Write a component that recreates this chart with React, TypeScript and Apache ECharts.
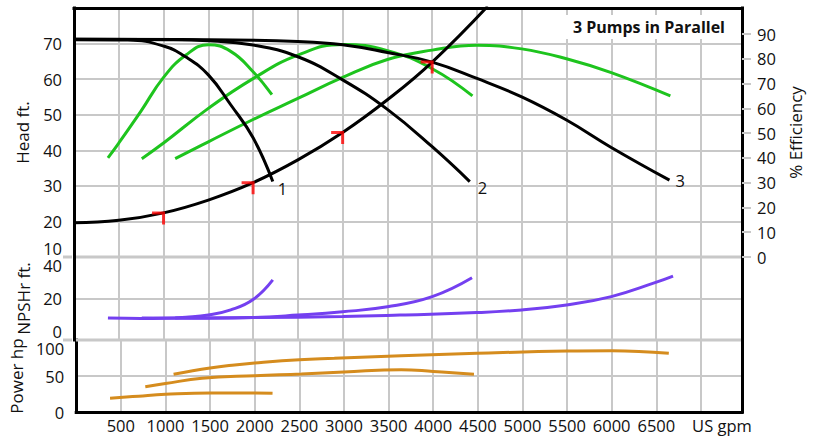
import React, { useEffect, useRef } from 'react';
import * as echarts from 'echarts';

// ---- data ----
const effTicks = [0, 10, 20, 30, 40, 50, 60, 70, 80, 90];

const headPump1 = [[0, 71.1], [600, 71.0], [1000, 69.3], [1250, 66.2], [1500, 61.2], [1750, 52.8], [2000, 43.5], [2220, 31.2]];
const headPump2 = [[0, 71.2], [1000, 71.1], [1500, 70.8], [2000, 69.6], [2500, 66.3], [3000, 59.8], [3500, 51.5], [4000, 41.0], [4420, 31.2]];
const headPump3 = [[0, 71.2], [1500, 71.1], [2500, 70.6], [3000, 69.7], [3500, 67.5], [4000, 64.8], [4500, 60.2], [5000, 55.0], [5500, 48.5], [6000, 40.8], [6650, 31.6]];
const systemHead = [[0, 19.6], [500, 20.3], [1000, 22.4], [1500, 26.0], [2000, 30.9], [2500, 37.3], [3000, 45.0], [3500, 54.2], [4000, 64.8], [4620, 80.5]];
const operatingPoints = [[1000, 22.4], [2000, 30.9], [3000, 45.0], [4000, 64.8]];

const eff1 = [[379, 40], [500, 46], [750, 59], [1000, 72.5], [1250, 81.5], [1500, 85.7], [1750, 83], [2000, 74.8], [2210, 65.5]];
const eff2 = [[757, 39.7], [1000, 46], [1500, 60], [2000, 72], [2500, 81.5], [3000, 85.8], [3500, 83.3], [4000, 76], [4450, 65]];
const eff3 = [[1130, 39.7], [1500, 46.5], [2000, 55.5], [2500, 64], [3000, 72.5], [3500, 79.7], [4000, 83.5], [4500, 85.5], [5000, 84], [5500, 80], [6000, 74.4], [6660, 65]];

const npsh1 = [[379, 10.6], [750, 10.4], [1000, 10.5], [1250, 11], [1500, 12], [1750, 14.5], [2000, 19.5], [2220, 29]];
const npsh2 = [[757, 10.6], [1500, 10.5], [2000, 10.8], [2500, 12], [3000, 13.6], [3500, 16], [4000, 20.9], [4445, 30]];
const npsh3 = [[1130, 10.6], [2000, 10.8], [3000, 11.3], [3640, 12], [4500, 13.2], [5000, 14.5], [5500, 16.9], [6000, 20.9], [6480, 27.5], [6690, 30.8]];

const power1 = [[379, 19], [700, 22], [1000, 24.5], [1500, 26.5], [2000, 26.5], [2200, 26]];
const power2 = [[774, 35], [1000, 39.5], [1409, 46.8], [2000, 50.5], [2522, 52.8], [3000, 55.5], [3640, 58.8], [4000, 56.3], [4457, 52.3]];
const power3 = [[1091, 52.3], [1500, 61], [1775, 65.3], [2000, 68], [2500, 72.5], [2892, 74.5], [3640, 78.2], [4490, 81.5], [5500, 84.7], [6000, 85.2], [6640, 81.5]];

const FONT = "'Open Sans', sans-serif";
const TXT = '#111';
const GRIDC = '#c8c8c8';
const BLACK = '#000';
const GREEN = '#1ec41e';
const PURPLE = '#7440f0';
const ORANGE = '#d58c1e';

const border = () => ({ show: true, onZero: false, lineStyle: { color: BLACK, width: 3, cap: 'square' } });
const split = () => ({ show: true, showMinLine: false, showMaxLine: false, lineStyle: { color: GRIDC, width: 2 } });
const labelBase = { fontFamily: FONT, fontSize: 16.5, color: TXT };
const nameStyle = { fontFamily: FONT, fontSize: 17, color: TXT };

function line(data: number[][], color: string, xi: number, yi: number, extra: any = {}) {
  return {
    type: 'line',
    data,
    xAxisIndex: xi,
    yAxisIndex: yi,
    showSymbol: false,
    smooth: 0.45,
    silent: true,
    lineStyle: { color, width: 3 },
    itemStyle: { color },
    ...extra,
  };
}

function endLabel(text: string, distance: number, dy: number) {
  return {
    endLabel: {
      show: true,
      formatter: text,
      distance,
      offset: [0, dy],
      ...labelBase,
    },
  };
}

const xBase = () => ({
  type: 'value',
  min: 0,
  max: 7460,
  interval: 500,
  splitLine: split(),
  axisTick: { show: false },
});

// panel separator strokes (layout only)
const sep = (x1: number, x2: number, y: number) => ({
  type: 'line',
  z: 100,
  silent: true,
  shape: { x1, y1: y, x2, y2: y },
  style: { stroke: GRIDC, lineWidth: 3 },
});

export default function App() {
  const ref = useRef<HTMLDivElement>(null);
  useEffect(() => {
    const chart = echarts.init(ref.current!, null, { renderer: 'svg' });
    const option: any = {
      animation: false,
      backgroundColor: '#fff',
      title: {
        text: '3 Pumps in Parallel',
        right: 74,
        top: 15,
        backgroundColor: '#fff',
        padding: [4, 15, 4, 7],
        textStyle: { fontFamily: FONT, fontWeight: 'bold', fontSize: 16, color: TXT },
      },
      graphic: [sep(63, 72, 257), sep(76, 741, 257), sep(63, 72, 340), sep(76, 741, 340)],
      grid: [
        { left: 74, right: 72, top: 8, height: 249 },
        { left: 74, right: 72, top: 257, height: 83 },
        { left: 74, right: 72, top: 340, height: 72 },
      ],
      xAxis: [
        { ...xBase(), gridIndex: 0, position: 'top', axisLine: border(), axisLabel: { show: false } },
        { ...xBase(), gridIndex: 1, position: 'bottom', axisLine: { show: false, onZero: false }, axisLabel: { show: false } },
        {
          ...xBase(),
          gridIndex: 2,
          position: 'bottom',
          axisLine: border(),
          axisLabel: {
            ...labelBase,
            margin: 5,
            showMinLabel: false,
            showMaxLabel: false,
            formatter: (v: number) =>
              v === 7000 ? '{u|US gpm}' : v > 0 && v < 7000 && v % 500 === 0 ? String(v) : '',
            rich: { u: { ...labelBase, padding: [0, 0, 0, 42] } },
          },
        },
      ],
      yAxis: [
        {
          type: 'value', gridIndex: 0, position: 'left', min: 10, max: 80, interval: 10,
          axisLine: border(), axisTick: { show: false }, splitLine: split(),
          axisLabel: {
            ...labelBase, margin: 12, lineHeight: 18,
            formatter: (v: number) => (v === 10 ? '10\n ' : v === 80 ? '' : String(v)),
          },
          name: 'Head ft.', nameLocation: 'middle', nameRotate: 90, nameGap: 43, nameTextStyle: nameStyle,
        },
        {
          type: 'value', gridIndex: 0, position: 'right', min: 0, max: 100.5, interval: 10,
          axisLine: border(),
          axisTick: { show: true, customValues: effTicks, length: 9, lineStyle: { color: GRIDC, width: 2 } },
          splitLine: { show: false },
          axisLabel: {
            ...labelBase, margin: 15, customValues: effTicks,
            formatter: (v: number) => (v <= 90 ? String(v) : ''),
          },
          name: '% Efficiency', nameLocation: 'middle', nameRotate: 90, nameGap: 43, nameTextStyle: nameStyle,
        },
        {
          type: 'value', gridIndex: 1, position: 'left', min: 0, max: 40, interval: 20,
          axisLine: border(),
          axisTick: { show: false },
          splitLine: split(),
          axisLabel: {
            ...labelBase, margin: 12, lineHeight: 17,
            formatter: (v: number) => (v === 40 ? ' \n40' : v === 0 ? '0\n ' : String(v)),
          },
          name: 'NPSHr ft.', nameLocation: 'middle', nameRotate: 90, nameGap: 42, nameTextStyle: nameStyle,
        },
        {
          type: 'value', gridIndex: 2, position: 'left', min: 0, max: 100, interval: 50,
          axisLine: border(), axisTick: { show: false }, splitLine: split(),
          axisLabel: {
            ...labelBase, margin: 12, lineHeight: 16,
            formatter: (v: number) => (v === 100 ? ' \n100' : String(v)),
          },
          name: 'Power hp', nameLocation: 'middle', nameRotate: 90, nameGap: 42, nameTextStyle: nameStyle,
        },
        {
          type: 'value', gridIndex: 1, position: 'right', min: 0, max: 40,
          axisLine: border(), axisTick: { show: false }, axisLabel: { show: false }, splitLine: { show: false },
        },
        {
          type: 'value', gridIndex: 2, position: 'right', min: 0, max: 100,
          axisLine: border(), axisTick: { show: false }, axisLabel: { show: false }, splitLine: { show: false },
        },
      ],
      series: [
        line(eff1, GREEN, 0, 1),
        line(eff2, GREEN, 0, 1),
        line(eff3, GREEN, 0, 1),
        line(headPump1, BLACK, 0, 0, endLabel('1', 5, 7)),
        line(headPump2, BLACK, 0, 0, endLabel('2', 8, 6)),
        line(headPump3, BLACK, 0, 0, endLabel('3', 6, 0)),
        line(systemHead, BLACK, 0, 0),
        line(npsh1, PURPLE, 1, 2),
        line(npsh2, PURPLE, 1, 2),
        line(npsh3, PURPLE, 1, 2),
        line(power1, ORANGE, 2, 3),
        line(power2, ORANGE, 2, 3),
        line(power3, ORANGE, 2, 3),
        {
          type: 'scatter',
          xAxisIndex: 0,
          yAxisIndex: 0,
          data: operatingPoints,
          symbol: 'path://M0,0H13V13H10V3H0Z',
          symbolSize: [13, 13],
          symbolOffset: [-5, 5],
          itemStyle: { color: '#ff0000' },
          silent: true,
          z: 10,
        },
      ],
    };
    chart.setOption(option);
    return () => chart.dispose();
  }, []);
  return (
    <div
      ref={ref}
      style={{ position: 'fixed', left: 0, top: 0, width: 814, height: 439, background: '#fff' }}
    />
  );
}
